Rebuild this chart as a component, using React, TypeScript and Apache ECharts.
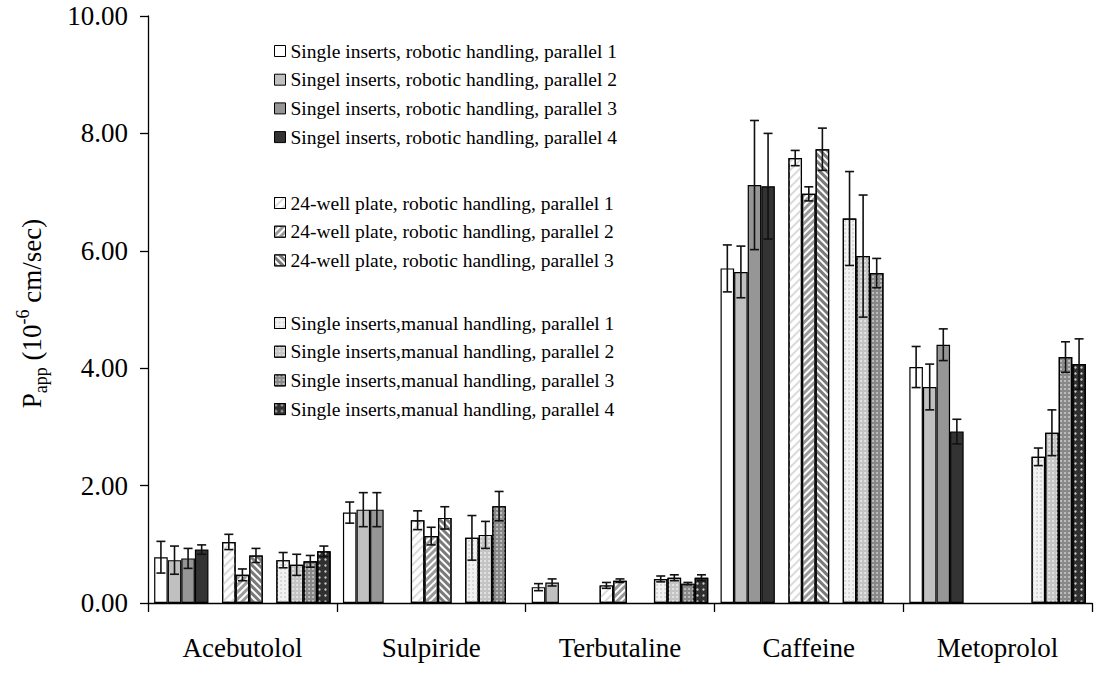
import React, { useEffect, useRef } from 'react';
import * as echarts from 'echarts';

// ---------- data ----------
const categories = ['Acebutolol', 'Sulpiride', 'Terbutaline', 'Caffeine', 'Metoprolol'];

const seriesNames = [
  'Single inserts, robotic handling, parallel 1',
  'Singel inserts, robotic handling, parallel 2',
  'Singel inserts, robotic handling, parallel 3',
  'Singel inserts, robotic handling, parallel 4',
  '24-well plate, robotic handling, parallel 1',
  '24-well plate, robotic handling, parallel 2',
  '24-well plate, robotic handling, parallel 3',
  'Single inserts,manual handling, parallel 1',
  'Single inserts,manual handling, parallel 2',
  'Single inserts,manual handling, parallel 3',
  'Single inserts,manual handling, parallel 4',
];

// mean values (10^-6 cm/sec), null = not measured
const singleRobotic1 = [0.78, 1.54, 0.27, 5.70, 4.02];
const singleRobotic2 = [0.73, 1.59, 0.35, 5.64, 3.68];
const singleRobotic3 = [0.76, 1.59, null, 7.12, 4.40];
const singleRobotic4 = [0.91, null, null, 7.10, 2.92];
const wellPlate1 = [1.04, 1.41, 0.30, 7.58, null];
const wellPlate2 = [0.48, 1.14, 0.38, 6.97, null];
const wellPlate3 = [0.81, 1.45, null, 7.73, null];
const manual1 = [0.73, 1.11, 0.41, 6.55, 2.49];
const manual2 = [0.65, 1.16, 0.43, 5.91, 2.90];
const manual3 = [0.71, 1.65, 0.33, 5.62, 4.19];
const manual4 = [0.88, null, 0.43, null, 4.07];

// standard deviations
const singleRobotic1Err = [0.27, 0.18, 0.06, 0.40, 0.35];
const singleRobotic2Err = [0.24, 0.29, 0.06, 0.44, 0.39];
const singleRobotic3Err = [0.17, 0.29, null, 1.10, 0.27];
const singleRobotic4Err = [0.08, null, null, 0.90, 0.21];
const wellPlate1Err = [0.13, 0.16, 0.05, 0.13, null];
const wellPlate2Err = [0.10, 0.15, 0.03, 0.12, null];
const wellPlate3Err = [0.12, 0.19, null, 0.36, null];
const manual1Err = [0.13, 0.38, 0.05, 0.80, 0.15];
const manual2Err = [0.18, 0.23, 0.05, 1.04, 0.39];
const manual3Err = [0.10, 0.25, 0.02, 0.25, 0.26];
const manual4Err = [0.09, null, 0.05, null, 0.43];

const yMin = 0;
const yMax = 10;
const yInterval = 2;

// ---------- styling ----------
const FONT = 'Liberation Serif';
const GAP = 0.065;
const SLOTS_PER_CAT = 13;

const values = [
  singleRobotic1, singleRobotic2, singleRobotic3, singleRobotic4,
  wellPlate1, wellPlate2, wellPlate3,
  manual1, manual2, manual3, manual4,
];
const errors = [
  singleRobotic1Err, singleRobotic2Err, singleRobotic3Err, singleRobotic4Err,
  wellPlate1Err, wellPlate2Err, wellPlate3Err,
  manual1Err, manual2Err, manual3Err, manual4Err,
];
const slots = [0, 1, 2, 3, 5, 6, 7, 9, 10, 11, 12];

const stripe = (color: string, rot: number, dy: number[]) => ({
  symbol: 'rect', symbolSize: 1, dashArrayX: [1, 0], dashArrayY: dy, rotation: rot, color,
});
const dots = (color: string, d: number, size: number) => ({
  symbol: 'circle', symbolSize: size, dashArrayX: [d, d], dashArrayY: [d, d], rotation: 0, color,
});

const styles: any[] = [
  { color: '#ffffff' },
  { color: '#c0c0c0' },
  { color: '#969696' },
  { color: '#333333' },
  { color: '#ffffff', decal: stripe('#dadada', -Math.PI / 4, [2, 4]) },
  { color: '#ffffff', decal: stripe('#9a9a9a', -Math.PI / 4, [3, 2]) },
  { color: '#ffffff', decal: stripe('#7a7a7a', Math.PI / 4, [3, 2]) },
  { color: '#f2f2f2', decal: dots('#cfcfcf', 2, 0.9) },
  { color: '#c4c4c4', decal: dots('#ececec', 2, 0.9) },
  { color: '#888888', decal: dots('#d0d0d0', 2, 0.9) },
  { color: '#303030', decal: dots('#c8c8c8', 2.5, 0.8) },
];

export default function App() {
  const ref = useRef<HTMLDivElement>(null);

  useEffect(() => {
    if (!ref.current) return;
    const chart = echarts.init(ref.current, null, { renderer: 'svg' });

    const barSeries: any[] = [];
    const gapSeries = (name: string) => ({
      name, type: 'bar', data: categories.map(() => null), barGap: '0%', barCategoryGap: `${GAP * 100}%`,
    });
    values.forEach((vals, i) => {
      if (i === 4) barSeries.push(gapSeries('_gapA'));
      if (i === 7) barSeries.push(gapSeries('_gapB'));
      barSeries.push({
        name: seriesNames[i],
        type: 'bar',
        data: vals.map((v) => (v == null ? '-' : v)),
        barGap: '0%',
        barCategoryGap: `${GAP * 100}%`,
        itemStyle: { ...styles[i], borderColor: '#000', borderWidth: 1.2 },
        emphasis: { disabled: true },
      });
    });

    const errData: any[] = [];
    values.forEach((vals, i) => {
      vals.forEach((v, c) => {
        const e = errors[i][c];
        if (v != null && e != null) errData.push([c, v, e, slots[i]]);
      });
    });

    const errSeries = {
      type: 'custom',
      name: '_err',
      z: 10,
      silent: true,
      data: errData,
      renderItem: (params: any, api: any) => {
        const c = api.value(0);
        const v = api.value(1);
        const e = api.value(2);
        const slot = api.value(3);
        const center = api.coord([c, 0]);
        const band = api.size([1, 0])[0];
        const used = band * (1 - GAP);
        const bw = used / SLOTS_PER_CAT;
        const x = center[0] - used / 2 + (slot + 0.5) * bw;
        const yTop = api.coord([c, v + e])[1];
        const yBot = api.coord([c, Math.max(v - e, 0)])[1];
        const cap = 4.5;
        const st = { stroke: '#111', lineWidth: 1.6 };
        return {
          type: 'group',
          children: [
            { type: 'line', shape: { x1: x, y1: yTop, x2: x, y2: yBot }, style: st },
            { type: 'line', shape: { x1: x - cap, y1: yTop, x2: x + cap, y2: yTop }, style: st },
            { type: 'line', shape: { x1: x - cap, y1: yBot, x2: x + cap, y2: yBot }, style: st },
          ],
        };
      },
    };

    const legendBase = {
      orient: 'vertical',
      left: 274,
      padding: 0,
      itemWidth: 11,
      itemHeight: 11,
      itemGap: 8.7,
      icon: 'rect',
      selectedMode: false,
      itemStyle: { borderColor: '#000', borderWidth: 1 },
      textStyle: { fontFamily: FONT, fontSize: 19.5, color: '#000', lineHeight: 20 },
    };

    const option: any = {
      animation: false,
      backgroundColor: '#ffffff',
      textStyle: { fontFamily: FONT },
      grid: { left: 148, right: 3, top: 16, bottom: 74, containLabel: false, outerBoundsMode: 'none' },
      legend: [
        { ...legendBase, top: 41, data: seriesNames.slice(0, 4) },
        { ...legendBase, top: 193, data: seriesNames.slice(4, 7) },
        { ...legendBase, top: 313, data: seriesNames.slice(7, 11) },
      ],
      xAxis: {
        type: 'category',
        data: categories,
        axisLine: { lineStyle: { color: '#000', width: 1.3 } },
        axisTick: { show: true, length: 9, alignWithLabel: false, interval: 0, lineStyle: { color: '#000', width: 1.3 } },
        axisLabel: { fontFamily: FONT, fontSize: 27, color: '#000', margin: 31, interval: 0 },
        splitLine: { show: false },
      },
      yAxis: {
        type: 'value',
        min: yMin,
        max: yMax,
        interval: yInterval,
        axisLine: { show: true, lineStyle: { color: '#000', width: 1.3 } },
        axisTick: { show: true, length: 8, lineStyle: { color: '#000', width: 1.3 } },
        axisLabel: {
          fontFamily: FONT, fontSize: 27, color: '#000', margin: 20,
          formatter: (v: number) => v.toFixed(2),
        },
        splitLine: { show: false },
        name: '{b|P}{sub|app}{b| (10}{sup|-6}{b| cm/sec)}',
        nameLocation: 'middle',
        nameGap: 98,
        nameRotate: 90,
        nameTextStyle: {
          color: '#000',
          fontFamily: FONT,
          padding: [0, 8, 0, 0],
          rich: {
            b: { fontFamily: FONT, fontSize: 27, color: '#000', lineHeight: 36 },
            sub: { fontFamily: FONT, fontSize: 18, color: '#000', verticalAlign: 'bottom', lineHeight: 24 },
            sup: { fontFamily: FONT, fontSize: 18, color: '#000', verticalAlign: 'top', lineHeight: 24 },
          },
        },
      },
      series: [...barSeries, errSeries],
    };

    chart.setOption(option);
    return () => chart.dispose();
  }, []);

  return (
    <div
      ref={ref}
      style={{ position: 'fixed', left: 0, top: 0, width: 1095, height: 677, background: '#fff' }}
    />
  );
}
